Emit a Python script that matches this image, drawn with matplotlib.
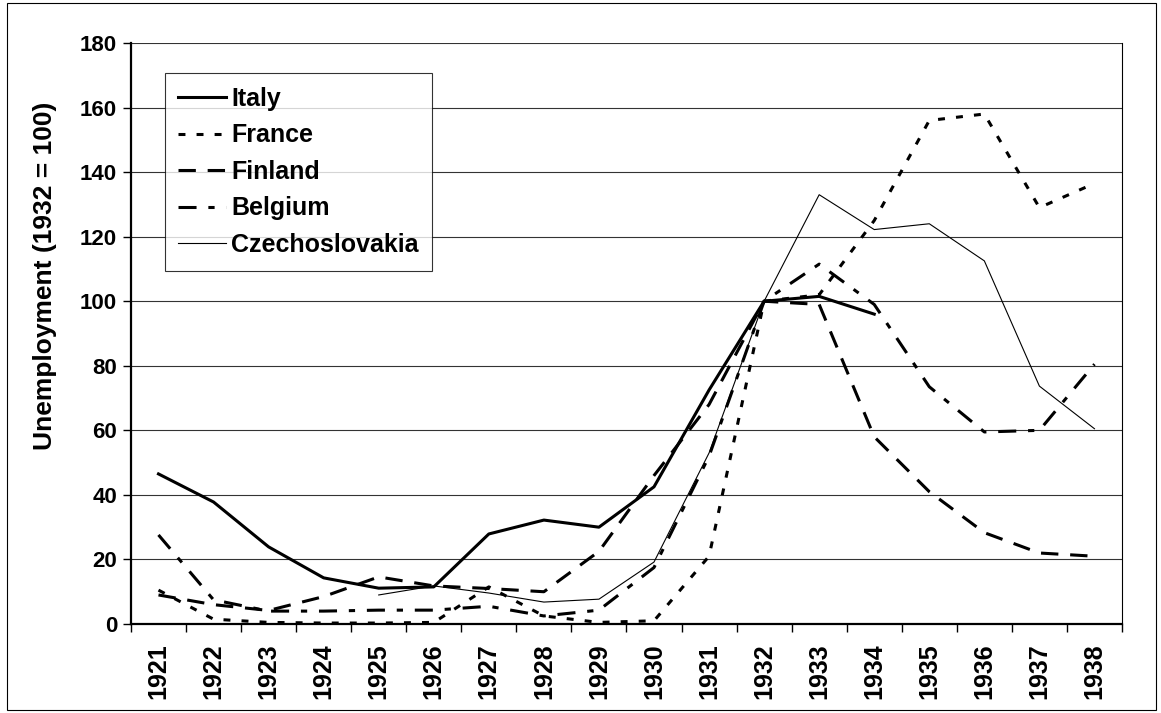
import numpy as np
import matplotlib
matplotlib.use("Agg")
import matplotlib.pyplot as plt
from matplotlib.patches import Rectangle

# data (1932 = 100)
years = [str(y) for y in range(1921, 1939)]
italy = [46.5, 37.8, 23.9, 14.3, 11.1, 11.5, 27.9, 32.2, 30.0, 42.5, 72.5, 100, 101.5, 96.0,
         None, None, None, None]
france = [10.5, 1.5, 0.5, 0.3, 0.3, 0.5, 11.5, 2.5, 0.5, 1.0, 21.0, 100, 102.0, 125.0,
          156.0, 158.0, 129.0, 136.5]
finland = [9.0, 6.0, 4.2, 8.5, 14.6, 11.8, 11.0, 10.0, 22.5, 46.0, 68.0, 100, 99.0, 58.0,
           41.0, 28.3, 22.0, 21.0]
belgium = [27.6, 7.5, 4.0, 4.0, 4.3, 4.3, 5.5, 2.5, 4.3, 17.5, 52.0, 100, 111.5, 99.0,
           73.5, 59.5, 60.0, 80.5]
czech = [None, None, None, None, 9.0, 11.8, 9.6, 6.8, 7.7, 19.2, 53.0, 100, 133.0, 122.2,
         124.0, 112.5, 73.7, 60.5]

plt.rcParams['font.family'] = ['Liberation Sans', 'DejaVu Sans']
plt.rcParams['font.weight'] = 'bold'
plt.rcParams['lines.scale_dashes'] = False

fig = plt.figure(figsize=(11.61, 7.13), dpi=100)
ax = fig.add_axes([0.1128, 0.1248, 0.9664 - 0.1128, 0.9397 - 0.1248])

x = np.arange(len(years))


def arr(v):
    return np.array([np.nan if a is None else a for a in v], dtype=float)


ax.plot(x, arr(italy), color='black', lw=2.2, label='Italy')
ax.plot(x, arr(france), color='black', lw=2.2, linestyle=(0, (5, 8)), label='France')
ax.plot(x, arr(finland), color='black', lw=2.2, linestyle=(0, (12.5, 8.5)), label='Finland')
ax.plot(x, arr(belgium), color='black', lw=2.2, linestyle=(0, (13, 8.5, 4.5, 8.5)), label='Belgium')
ax.plot(x, arr(czech), color='black', lw=0.8, label='Czechoslovakia')

ax.set_xlim(-0.5, len(years) - 0.5)
ax.set_ylim(0, 180)
ax.set_yticks(np.arange(0, 181, 20))
ax.yaxis.grid(True, color='#333333', lw=0.8)
ax.set_axisbelow(True)

ax.set_xticks(x)
ax.set_xticklabels(years, rotation=90, fontsize=18, fontweight='bold')
ax.set_xticks(np.arange(-0.5, len(years)), minor=True)
ax.tick_params(axis='x', which='major', length=0, pad=14)
ax.tick_params(axis='x', which='minor', length=6, width=1, direction='out')
ax.tick_params(axis='y', length=6, width=1, direction='out', labelsize=16, pad=4)
for t in ax.get_yticklabels():
    t.set_fontweight('bold')

ax.spines['top'].set_visible(False)
ax.spines['left'].set_linewidth(1.6)
ax.spines['bottom'].set_linewidth(1.6)
ax.spines['right'].set_linewidth(0.8)

ax.set_ylabel('Unemployment (1932 = 100)', fontsize=19, fontweight='bold')
ax.yaxis.set_label_coords(-0.075, 0.6)

leg = ax.legend(loc='upper left', bbox_to_anchor=(0.034, 0.948), borderaxespad=0,
                fontsize=18, frameon=True, fancybox=False, handlelength=1.9,
                handletextpad=0.2, labelspacing=0.5, borderpad=0.55)
leg.get_frame().set_edgecolor('black')
leg.get_frame().set_linewidth(0.8)
for t in leg.get_texts():
    t.set_fontweight('bold')

fig.patches.append(Rectangle((0.006, 0.004), 0.99, 0.992, transform=fig.transFigure,
                             fill=False, edgecolor='black', lw=0.8))

fig.savefig('out.png', dpi=100)
